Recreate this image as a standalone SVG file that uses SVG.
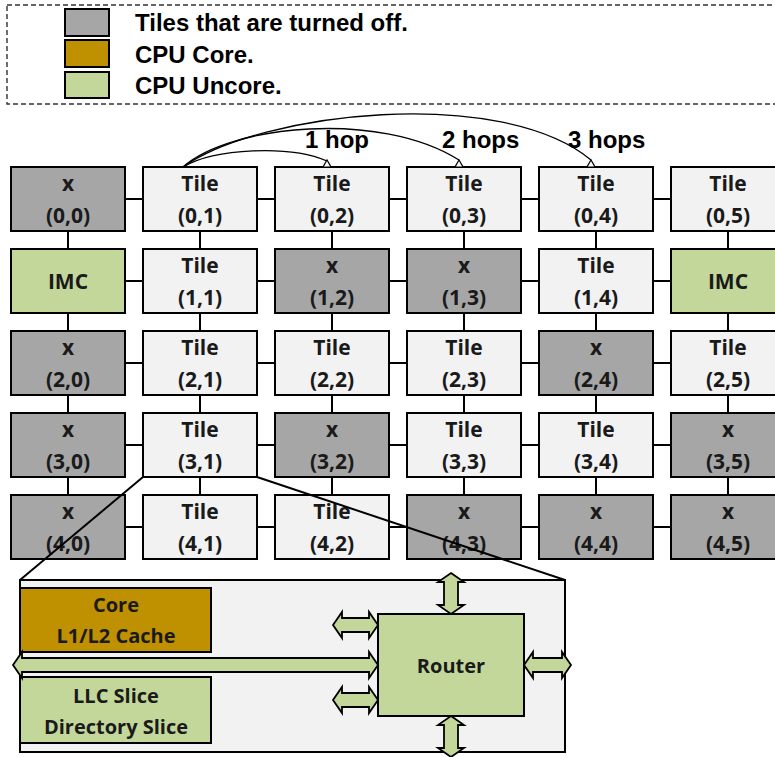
<svg xmlns="http://www.w3.org/2000/svg" width="775" height="757" viewBox="0 0 775 757">
<defs>
<style>
.box{stroke:#000;stroke-width:2}
.off{fill:#a6a6a6}
.on{fill:#f2f2f2}
.unc{fill:#c4d79b}
.core{fill:#bf9000}
.t{font-family:"Open Sans",Lato,"DejaVu Sans",sans-serif;font-weight:bold;font-size:21px;fill:#1a1a1a;text-anchor:middle}
.d{font-size:20px}
.lg{font-family:"Liberation Sans",Arial,sans-serif;font-weight:bold;font-size:24px;fill:#000}
.ln{stroke:#000;stroke-width:2;fill:none}
.arc{stroke:#000;stroke-width:1.3;fill:none}
.ah{fill:#fff;stroke:#000;stroke-width:1.2}
.dbl{fill:#c4d79b;stroke:#000;stroke-width:1.8;stroke-linejoin:miter}
</style>
</defs>
<rect width="775" height="757" fill="#fff"/>

<g id="legend">
<rect x="7" y="5" width="800" height="99" fill="none" stroke="#333" stroke-width="1.4" stroke-dasharray="5,3"/>
<rect class="box off" x="65" y="9" width="44" height="27"/>
<rect class="box core" x="65" y="40" width="44" height="27"/>
<rect class="box unc" x="65" y="72" width="44" height="26"/>
<text class="lg" x="135" y="31">Tiles that are turned off.</text>
<text class="lg" x="135" y="63">CPU Core.</text>
<text class="lg" x="135" y="94">CPU Uncore.</text>
</g>

<g id="connectors">
<line class="ln" x1="68" y1="199" x2="785" y2="199"/>
<line class="ln" x1="68" y1="281" x2="785" y2="281"/>
<line class="ln" x1="68" y1="363" x2="785" y2="363"/>
<line class="ln" x1="68" y1="445" x2="785" y2="445"/>
<line class="ln" x1="68" y1="527" x2="785" y2="527"/>
<line class="ln" x1="68" y1="199" x2="68" y2="527"/>
<line class="ln" x1="200" y1="199" x2="200" y2="527"/>
<line class="ln" x1="332" y1="199" x2="332" y2="527"/>
<line class="ln" x1="464" y1="199" x2="464" y2="527"/>
<line class="ln" x1="596" y1="199" x2="596" y2="527"/>
<line class="ln" x1="728" y1="199" x2="728" y2="527"/>
<path class="arc" d="M183,167 C215,148 290,145 327,161"/>
<path class="arc" d="M183,167 C230,125 380,110 459,160"/>
<path class="arc" d="M183,167 C260,112 500,85 591,160"/>
</g>

<g id="hop-labels">
<text class="lg" x="305" y="148">1 hop</text>
<text class="lg" x="442" y="148">2 hops</text>
<text class="lg" x="568" y="148">3 hops</text>
</g>

<g id="n00"><rect class="box off" x="11" y="167" width="114" height="64"/><text class="t" x="68" y="191">x</text><text class="t" x="68" y="223">(0,0)</text></g>
<g id="n01"><rect class="box on" x="143" y="167" width="114" height="64"/><text class="t" x="200" y="191">Tile</text><text class="t" x="200" y="223">(0,1)</text></g>
<g id="n02"><rect class="box on" x="275" y="167" width="114" height="64"/><text class="t" x="332" y="191">Tile</text><text class="t" x="332" y="223">(0,2)</text></g>
<g id="n03"><rect class="box on" x="407" y="167" width="114" height="64"/><text class="t" x="464" y="191">Tile</text><text class="t" x="464" y="223">(0,3)</text></g>
<g id="n04"><rect class="box on" x="539" y="167" width="114" height="64"/><text class="t" x="596" y="191">Tile</text><text class="t" x="596" y="223">(0,4)</text></g>
<g id="n05"><rect class="box on" x="671" y="167" width="114" height="64"/><text class="t" x="728" y="191">Tile</text><text class="t" x="728" y="223">(0,5)</text></g>

<g id="n10"><rect class="box unc" x="11" y="249" width="114" height="64"/><text class="t" x="68" y="289">IMC</text></g>
<g id="n11"><rect class="box on" x="143" y="249" width="114" height="64"/><text class="t" x="200" y="273">Tile</text><text class="t" x="200" y="305">(1,1)</text></g>
<g id="n12"><rect class="box off" x="275" y="249" width="114" height="64"/><text class="t" x="332" y="273">x</text><text class="t" x="332" y="305">(1,2)</text></g>
<g id="n13"><rect class="box off" x="407" y="249" width="114" height="64"/><text class="t" x="464" y="273">x</text><text class="t" x="464" y="305">(1,3)</text></g>
<g id="n14"><rect class="box on" x="539" y="249" width="114" height="64"/><text class="t" x="596" y="273">Tile</text><text class="t" x="596" y="305">(1,4)</text></g>
<g id="n15"><rect class="box unc" x="671" y="249" width="114" height="64"/><text class="t" x="728" y="289">IMC</text></g>

<g id="n20"><rect class="box off" x="11" y="331" width="114" height="64"/><text class="t" x="68" y="355">x</text><text class="t" x="68" y="387">(2,0)</text></g>
<g id="n21"><rect class="box on" x="143" y="331" width="114" height="64"/><text class="t" x="200" y="355">Tile</text><text class="t" x="200" y="387">(2,1)</text></g>
<g id="n22"><rect class="box on" x="275" y="331" width="114" height="64"/><text class="t" x="332" y="355">Tile</text><text class="t" x="332" y="387">(2,2)</text></g>
<g id="n23"><rect class="box on" x="407" y="331" width="114" height="64"/><text class="t" x="464" y="355">Tile</text><text class="t" x="464" y="387">(2,3)</text></g>
<g id="n24"><rect class="box off" x="539" y="331" width="114" height="64"/><text class="t" x="596" y="355">x</text><text class="t" x="596" y="387">(2,4)</text></g>
<g id="n25"><rect class="box on" x="671" y="331" width="114" height="64"/><text class="t" x="728" y="355">Tile</text><text class="t" x="728" y="387">(2,5)</text></g>

<g id="n30"><rect class="box off" x="11" y="413" width="114" height="64"/><text class="t" x="68" y="437">x</text><text class="t" x="68" y="469">(3,0)</text></g>
<g id="n31"><rect class="box on" x="143" y="413" width="114" height="64"/><text class="t" x="200" y="437">Tile</text><text class="t" x="200" y="469">(3,1)</text></g>
<g id="n32"><rect class="box off" x="275" y="413" width="114" height="64"/><text class="t" x="332" y="437">x</text><text class="t" x="332" y="469">(3,2)</text></g>
<g id="n33"><rect class="box on" x="407" y="413" width="114" height="64"/><text class="t" x="464" y="437">Tile</text><text class="t" x="464" y="469">(3,3)</text></g>
<g id="n34"><rect class="box on" x="539" y="413" width="114" height="64"/><text class="t" x="596" y="437">Tile</text><text class="t" x="596" y="469">(3,4)</text></g>
<g id="n35"><rect class="box off" x="671" y="413" width="114" height="64"/><text class="t" x="728" y="437">x</text><text class="t" x="728" y="469">(3,5)</text></g>

<g id="n40"><rect class="box off" x="11" y="495" width="114" height="64"/><text class="t" x="68" y="519">x</text><text class="t" x="68" y="551">(4,0)</text></g>
<g id="n41"><rect class="box on" x="143" y="495" width="114" height="64"/><text class="t" x="200" y="519">Tile</text><text class="t" x="200" y="551">(4,1)</text></g>
<g id="n42"><rect class="box on" x="275" y="495" width="114" height="64"/><text class="t" x="332" y="519">Tile</text><text class="t" x="332" y="551">(4,2)</text></g>
<g id="n43"><rect class="box off" x="407" y="495" width="114" height="64"/><text class="t" x="464" y="519">x</text><text class="t" x="464" y="551">(4,3)</text></g>
<g id="n44"><rect class="box off" x="539" y="495" width="114" height="64"/><text class="t" x="596" y="519">x</text><text class="t" x="596" y="551">(4,4)</text></g>
<g id="n45"><rect class="box off" x="671" y="495" width="114" height="64"/><text class="t" x="728" y="519">x</text><text class="t" x="728" y="551">(4,5)</text></g>

<g id="arrowheads">
<polygon class="ah" points="323,167 331,167 327,160"/>
<polygon class="ah" points="455,167 463,167 459,160"/>
<polygon class="ah" points="587,167 595,167 591,160"/>
</g>

<g id="tile-detail">
<rect class="box on" x="20" y="580" width="545" height="172"/>
<rect class="box core" x="20" y="588" width="191" height="64"/>
<rect class="box unc" x="20" y="677" width="191" height="66"/>
<text class="t d" x="116" y="612">Core</text>
<text class="t d" x="116" y="643">L1/L2 Cache</text>
<text class="t d" x="116" y="703">LLC Slice</text>
<text class="t d" x="116" y="734">Directory Slice</text>
<polygon class="dbl" points="13,665 22,652 22,658 369,658 369,652 378,665 369,678 369,672 22,672 22,678"/>
<polygon class="dbl" points="333,625 342,612 342,618 369,618 369,612 378,625 369,638 369,632 342,632 342,638"/>
<polygon class="dbl" points="333,700 342,687 342,693 369,693 369,687 378,700 369,713 369,707 342,707 342,713"/>
<polygon class="dbl" points="524,665 533,652 533,658 562,658 562,652 571,665 562,678 562,672 533,672 533,678"/>
<polygon class="dbl" points="451,573 464,582 458,582 458,605 464,605 451,614 438,605 444,605 444,582 438,582"/>
<polygon class="dbl" points="451,716 464,725 458,725 458,748 464,748 451,757 438,748 444,748 444,725 438,725"/>
<g id="router"><rect class="box unc" x="378" y="614" width="146" height="102"/><text class="t d" x="451" y="673">Router</text></g>
</g>

<g id="zoom-lines">
<line class="ln" x1="143" y1="477" x2="20" y2="580"/>
<line class="ln" x1="257" y1="477" x2="565" y2="580"/>
</g>
</svg>
